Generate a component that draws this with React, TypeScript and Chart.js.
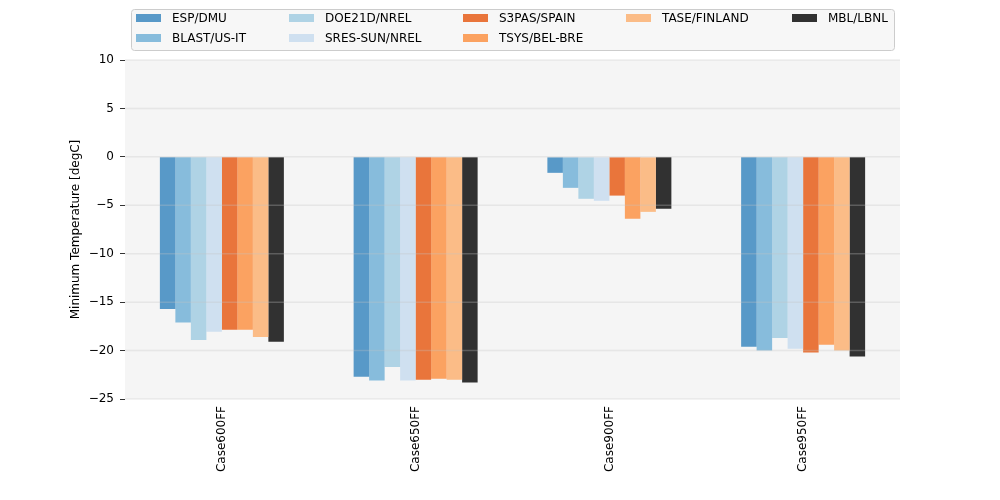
import React, { useEffect, useRef } from "react";
import { Chart, registerables } from "chart.js";

Chart.register(...registerables);

const categories = ["Case600FF", "Case650FF", "Case900FF", "Case950FF"];
const programs = [
  "ESP/DMU",
  "BLAST/US-IT",
  "DOE21D/NREL",
  "SRES-SUN/NREL",
  "S3PAS/SPAIN",
  "TSYS/BEL-BRE",
  "TASE/FINLAND",
  "MBL/LBNL",
];
const espDmu = [-15.7, -22.7, -1.65, -19.6];
const blastUsIt = [-17.1, -23.1, -3.2, -20.0];
const doe21dNrel = [-18.9, -21.7, -4.33, -18.7];
const sresSunNrel = [-18.05, -23.1, -4.54, -19.8];
const s3pasSpain = [-17.85, -23.0, -4.0, -20.2];
const tsysBelBre = [-17.85, -22.9, -6.4, -19.4];
const taseFinland = [-18.6, -23.0, -5.68, -20.0];
const mblLbnl = [-19.1, -23.3, -5.37, -20.6];
const seriesValues = [espDmu, blastUsIt, doe21dNrel, sresSunNrel, s3pasSpain, tsysBelBre, taseFinland, mblLbnl];
const colors = [
  "rgba(49,130,189,0.8)",
  "rgba(107,174,214,0.8)",
  "rgba(158,202,225,0.8)",
  "rgba(198,219,239,0.8)",
  "rgba(230,85,13,0.8)",
  "rgba(253,141,60,0.8)",
  "rgba(253,174,107,0.8)",
  "rgba(0,0,0,0.8)",
];
const yTicks = [10, 5, 0, -5, -10, -15, -20, -25];

const FONT = "DejaVu Sans";

const bgPlugin = {
  id: "bgPlugin",
  beforeDatasetsDraw(chart: any) {
    const { ctx, chartArea } = chart;
    ctx.save();
    ctx.fillStyle = "#f5f5f5";
    ctx.fillRect(chartArea.left, chartArea.top, chartArea.right - chartArea.left, chartArea.bottom - chartArea.top);
    ctx.restore();
  },
  afterDatasetsDraw(chart: any) {
    const { ctx, chartArea, scales } = chart;
    ctx.save();
    ctx.strokeStyle = "rgba(195,195,195,0.3)";
    ctx.lineWidth = 1.5;
    for (const v of yTicks) {
      const y = scales.y.getPixelForValue(v);
      ctx.beginPath();
      ctx.moveTo(chartArea.left, y);
      ctx.lineTo(chartArea.right, y);
      ctx.stroke();
    }
    ctx.restore();
  },
  afterDraw(chart: any) {
    const { ctx } = chart;
    ctx.save();
    const bx = 131.5, by = 9.5, bw = 763, bh = 41, r = 3;
    ctx.beginPath();
    ctx.moveTo(bx + r, by);
    ctx.lineTo(bx + bw - r, by);
    ctx.arcTo(bx + bw, by, bx + bw, by + r, r);
    ctx.lineTo(bx + bw, by + bh - r);
    ctx.arcTo(bx + bw, by + bh, bx + bw - r, by + bh, r);
    ctx.lineTo(bx + r, by + bh);
    ctx.arcTo(bx, by + bh, bx, by + bh - r, r);
    ctx.lineTo(bx, by + r);
    ctx.arcTo(bx, by, bx + r, by, r);
    ctx.closePath();
    ctx.fillStyle = "rgba(245,245,245,0.8)";
    ctx.fill();
    ctx.strokeStyle = "#cccccc";
    ctx.lineWidth = 1;
    ctx.stroke();
    const colX = [172, 325, 499, 662, 828];
    const rowY = [18, 38];
    ctx.font = `12px "${FONT}"`;
    ctx.textBaseline = "middle";
    ctx.textAlign = "left";
    programs.forEach((name, i) => {
      let c = Math.floor(i / 2);
      let rr = i % 2;
      if (i >= 6) { c = 3 + (i - 6); rr = 0; }
      const tx = colX[c];
      const ty = rowY[rr];
      ctx.fillStyle = "#f5f5f5";
      ctx.fillRect(tx - 36, ty - 4, 25, 8);
      ctx.fillStyle = colors[i];
      ctx.fillRect(tx - 36, ty - 4, 25, 8);
      ctx.fillStyle = "#000";
      ctx.fillText(name, tx, ty + 1);
    });
    ctx.restore();
  },
};

export default function App() {
  const ref = useRef<HTMLCanvasElement | null>(null);
  useEffect(() => {
    if (!ref.current) return;
    Chart.defaults.font.family = FONT;
    Chart.defaults.font.size = 12;
    Chart.defaults.color = "#000";
    const chart = new Chart(ref.current, {
      type: "bar",
      data: {
        labels: categories,
        datasets: programs.map((p, i) => ({
          label: p,
          data: seriesValues[i],
          backgroundColor: colors[i],
          borderWidth: 0,
          categoryPercentage: 0.64,
          barPercentage: 1.0,
        })),
      },
      options: {
        animation: false,
        responsive: false,
        maintainAspectRatio: false,
        layout: { padding: { top: 60, right: 100, left: 0, bottom: 0 } },
        plugins: { legend: { display: false }, tooltip: { enabled: false } },
        scales: {
          x: {
            grid: { display: false, drawTicks: false },
            border: { display: false },
            ticks: { minRotation: 90, maxRotation: 90, padding: 7, font: { family: FONT, size: 12 }, color: "#000" },
            afterFit: (s: any) => { s.height = 101; },
          },
          y: {
            min: -25,
            max: 10,
            grid: { drawOnChartArea: false, drawTicks: true, tickLength: 5, color: "#333", lineWidth: 1 },
            border: { display: false },
            ticks: {
              stepSize: 5,
              padding: 6,
              font: { family: FONT, size: 12 },
              color: "#000",
              callback: (v: any) => (Number(v) < 0 ? "\u2212" + Math.abs(Number(v)) : String(v)),
            },
            title: {
              display: true,
              text: "Minimum Temperature [degC]",
              font: { family: FONT, size: 12 },
              color: "#000",
              padding: { top: 69, bottom: 0 },
            },
            afterFit: (s: any) => { s.width = 125; },
          },
        },
      },
      plugins: [bgPlugin],
    });
    return () => chart.destroy();
  }, []);
  return (
    <div style={{ position: "fixed", left: 0, top: 0, width: 1000, height: 500, background: "#fff" }}>
      <canvas ref={ref} width={1000} height={500} style={{ width: 1000, height: 500 }} />
    </div>
  );
}
